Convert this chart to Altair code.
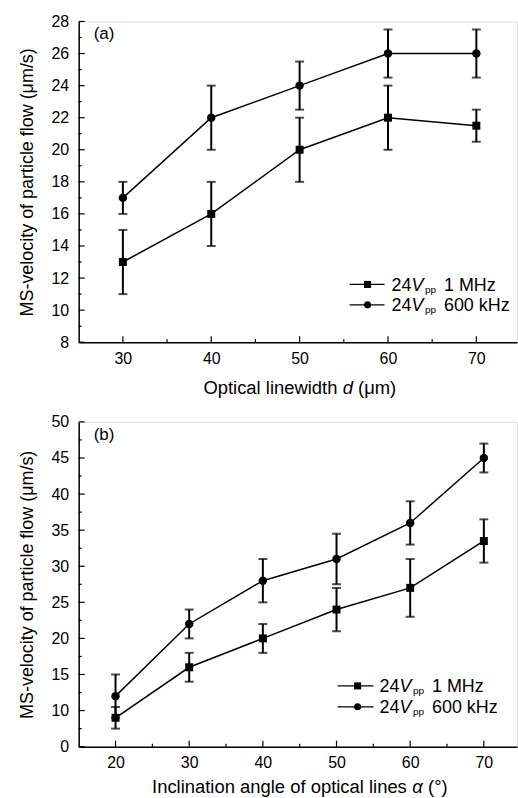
import altair as alt
import pandas as pd

FONT = "Liberation Sans"

# ---------------- data ----------------
series_names = ["1 MHz", "600 kHz"]

a_x = [30, 40, 50, 60, 70]
a_1mhz = [13, 16, 20, 22, 21.5]
a_1mhz_err = [2, 2, 2, 2, 1]
a_600khz = [17, 22, 24, 26, 26]
a_600khz_err = [1, 2, 1.5, 1.5, 1.5]

b_x = [20, 30, 40, 50, 60, 70]
b_1mhz = [9, 16, 20, 24, 27, 33.5]
b_1mhz_err = [1.5, 2, 2, 3, 4, 3]
b_600khz = [12, 22, 28, 31, 36, 45]
b_600khz_err = [3, 2, 3, 3.5, 3, 2]

a_yticks = [8, 10, 12, 14, 16, 18, 20, 22, 24, 26, 28]
a_yminor = [9, 11, 13, 15, 17, 19, 21, 23, 25, 27]
a_xticks = [30, 40, 50, 60, 70]
a_xminor = [35, 45, 55, 65]

b_yticks = [5, 10, 15, 20, 25, 30, 35, 40, 45, 50]
b_ylabel_bottom = "0"
b_yminor = [7.5, 12.5, 17.5, 22.5, 27.5, 32.5, 37.5, 42.5, 47.5]
b_xticks = [20, 30, 40, 50, 60, 70]
b_xminor = [25, 35, 45, 55, 65]

y_title = "MS-velocity of particle flow (μm/s)"
a_xtitle = ["Optical linewidth", "d", "(μm)"]
b_xtitle = ["Inclination angle of optical lines", "α", "(°)"]

# Arial / Liberation Sans advance widths (per 1000 em)
W = {' ': 278, '(': 333, ')': 333, 'O': 778, 'p': 556, 't': 278, 'i': 222, 'c': 500,
     'a': 556, 'l': 222, 'n': 556, 'e': 556, 'w': 722, 'd': 556, 'h': 556, 'μ': 576,
     'm': 833, 'I': 278, 'g': 556, 'o': 556, 'f': 278, 's': 500, 'α': 578, '°': 400,
     '2': 556, '4': 556, 'V': 667, '1': 556, 'M': 833, 'H': 722, 'z': 500, '6': 556,
     '0': 556, 'k': 500}


def tw(s, size):
    return sum(W.get(ch, 556) for ch in s) * size / 1000.0


dummy = pd.DataFrame({"k": [0]})


def text_at(txt, x, y, size, style="normal", align="left", baseline="alphabetic"):
    return alt.Chart(dummy).mark_text(
        text=txt, font=FONT, fontSize=size, fontStyle=style, color="black",
        align=align, baseline=baseline,
    ).encode(x=alt.value(x), y=alt.value(y))


def panel(xs, s1, e1, s2, e2, xdom, ydom, yticks, yminor, xticks, xminor,
          xtitle_parts, tag, W_, H_, leg, title_y, label_expr=None):
    df1 = pd.DataFrame({"x": xs, "y": s1, "lo": [v - e for v, e in zip(s1, e1)],
                        "hi": [v + e for v, e in zip(s1, e1)], "s": series_names[0]})
    df2 = pd.DataFrame({"x": xs, "y": s2, "lo": [v - e for v, e in zip(s2, e2)],
                        "hi": [v + e for v, e in zip(s2, e2)], "s": series_names[1]})
    df = pd.concat([df1, df2], ignore_index=True)

    xscale = alt.Scale(domain=xdom, nice=False, zero=False)
    yscale = alt.Scale(domain=ydom, nice=False, zero=False)
    xaxis = alt.Axis(values=xticks, tickSize=0, labelPadding=8, title=None, grid=False,
                     domainColor="black", domainWidth=1.5, labelFontSize=16,
                     labelColor="black", labelFont=FONT, labelFlush=False)
    ykw = dict(values=yticks, tickSize=0, labelPadding=10, title=y_title, grid=False,
               domainColor="black", domainWidth=1.5, labelFontSize=16, labelColor="black",
               labelFont=FONT, titleFont=FONT, titleFontSize=18, titleFontWeight="normal",
               titleColor="black", titlePadding=15)
    if label_expr:
        ykw["labelExpr"] = label_expr
    yaxis = alt.Axis(**ykw)

    def X(f):
        return alt.X(f, type="quantitative", scale=xscale, axis=xaxis)

    def Y(f):
        return alt.Y(f, type="quantitative", scale=yscale, axis=yaxis)

    layers = []
    base = alt.Chart(df)
    layers.append(base.mark_rule(color="black", strokeWidth=2).encode(x=X("x"), y=Y("lo"), y2="hi"))
    layers.append(base.mark_tick(color="black", orient="horizontal", size=9, thickness=2)
                  .encode(x=X("x"), y=Y("lo")))
    layers.append(base.mark_tick(color="black", orient="horizontal", size=9, thickness=2)
                  .encode(x=X("x"), y=Y("hi")))
    layers.append(base.mark_line(color="black", strokeWidth=1.5).encode(x=X("x"), y=Y("y"), detail="s:N"))
    layers.append(alt.Chart(df1).mark_point(shape="square", filled=True, opacity=1, color="black", size=64)
                  .encode(x=X("x"), y=Y("y")))
    layers.append(alt.Chart(df2).mark_point(shape="circle", filled=True, opacity=1, color="black", size=72)
                  .encode(x=X("x"), y=Y("y")))

    # inward axis ticks
    layers.append(alt.Chart(pd.DataFrame({"v": yticks})).mark_rule(color="black", strokeWidth=1.2)
                  .encode(y=Y("v"), x=alt.value(0), x2=alt.value(6)))
    layers.append(alt.Chart(pd.DataFrame({"v": yminor})).mark_rule(color="black", strokeWidth=1.2)
                  .encode(y=Y("v"), x=alt.value(0), x2=alt.value(3)))
    layers.append(alt.Chart(pd.DataFrame({"v": xticks})).mark_rule(color="black", strokeWidth=1.2)
                  .encode(x=X("v"), y=alt.value(H_), y2=alt.value(H_ - 6)))
    layers.append(alt.Chart(pd.DataFrame({"v": xminor})).mark_rule(color="black", strokeWidth=1.2)
                  .encode(x=X("v"), y=alt.value(H_), y2=alt.value(H_ - 3)))

    # panel tag
    layers.append(text_at(tag, 15, 13, 17, baseline="middle"))

    # legend
    lx0, lx1, mx, tx, r1, r2 = leg
    for i, (ry, shp, sz) in enumerate([(r1, "square", 50), (r2, "circle", 50)]):
        layers.append(alt.Chart(dummy).mark_rule(color="black", strokeWidth=1.2)
                      .encode(x=alt.value(lx0), x2=alt.value(lx1), y=alt.value(ry)))
        layers.append(alt.Chart(dummy).mark_point(shape=shp, filled=True, opacity=1, color="black", size=sz)
                      .encode(x=alt.value(mx), y=alt.value(ry)))
        bl = ry + 6.5
        x = tx
        layers.append(text_at("24", x, bl, 18))
        x += tw("24", 18)
        layers.append(text_at("V", x, bl, 18, style="italic"))
        x += tw("V", 18) + 1.5
        layers.append(text_at("pp", x, bl + 2, 10))
        x += tw("pp", 10) + 3 + tw(" ", 18)
        layers.append(text_at(series_names[i], x, bl, 18))

    # x-axis title with italic symbol
    fs = 18.5
    sp = tw(" ", fs)
    total = tw(xtitle_parts[0], fs) + tw(xtitle_parts[1], fs) + tw(xtitle_parts[2], fs) + 2 * sp
    x = W_ / 2 - total / 2 + 2
    layers.append(text_at(xtitle_parts[0], x, title_y, fs))
    x += tw(xtitle_parts[0], fs) + sp
    layers.append(text_at(xtitle_parts[1], x, title_y, fs, style="italic"))
    x += tw(xtitle_parts[1], fs) + sp
    layers.append(text_at(xtitle_parts[2], x, title_y, fs))

    return alt.layer(*layers).properties(width=W_, height=H_)


pa = panel(a_x, a_1mhz, a_1mhz_err, a_600khz, a_600khz_err, [25, 74.6], [8, 28],
           a_yticks, a_yminor, a_xticks, a_xminor, a_xtitle, "(a)", 440, 322,
           (272, 307, 290, 314, 264, 284.5), 322 + 52)
pb = panel(b_x, b_1mhz, b_1mhz_err, b_600khz, b_600khz_err, [15, 74.5], [5, 50],
           b_yticks, b_yminor, b_xticks, b_xminor, b_xtitle, "(b)", 440, 326,
           (260, 296, 280, 302, 265, 286), 326 + 47,
           label_expr="datum.value == 5 ? '" + b_ylabel_bottom + "' : datum.label")

chart = alt.vconcat(pa, pb, spacing=15).properties(
    padding={"left": 17, "top": 11, "right": 0, "bottom": 0},
    background="white",
).configure_view(stroke=None).configure(font=FONT)

chart.save("out.html", embed_options={"renderer": "svg", "actions": False})
